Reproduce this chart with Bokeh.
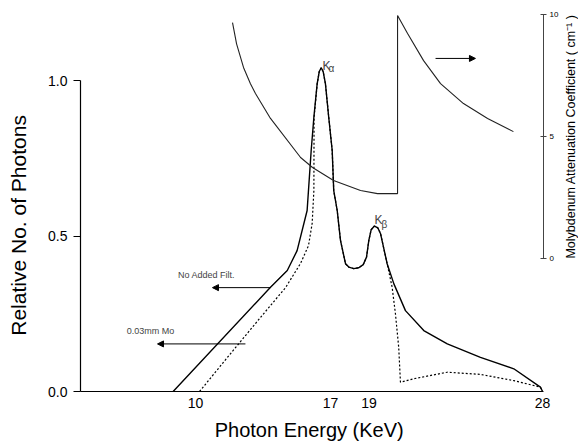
import math
from bokeh.plotting import figure
from bokeh.layouts import row
from bokeh.models import (Range1d, LinearAxis, FixedTicker, NumeralTickFormatter,
                          Label, Arrow, NormalHead)
from bokeh.embed import file_html
from bokeh.resources import INLINE

# ---- data ----
energy_open = [8.84, 13.89, 14.76, 15.27, 15.79, 16.00, 16.14, 16.31, 16.42, 16.52, 16.62,
               16.74, 16.91, 17.09, 17.17, 17.35, 17.52, 17.78, 17.95, 18.21, 18.47, 18.70,
               18.87, 18.99, 19.11, 19.28, 19.46, 19.60, 19.94, 20.29, 20.89, 21.84, 23.06,
               24.78, 26.51, 27.89, 28.00]
photons_open = [0.0, 0.335, 0.389, 0.453, 0.582, 0.775, 0.882, 0.989, 1.029, 1.041, 1.029,
                0.989, 0.882, 0.775, 0.646, 0.582, 0.486, 0.411, 0.400, 0.395, 0.398, 0.408,
                0.432, 0.486, 0.520, 0.532, 0.526, 0.507, 0.411, 0.346, 0.260, 0.196, 0.153,
                0.110, 0.073, 0.014, 0.0]

energy_mo = [10.21, 11.82, 13.37, 14.67, 15.45, 15.86, 16.05, 16.14, 16.15, 16.31, 16.42,
             16.52, 16.62, 16.74, 16.91, 17.09, 17.17, 17.35, 17.52, 17.78, 17.95, 18.21,
             18.47, 18.70, 18.87, 18.99, 19.11, 19.28, 19.46, 19.60, 19.94, 20.20, 20.37,
             20.54, 20.63, 21.32, 23.06, 24.78, 26.51, 27.89, 28.00]
photons_mo = [0.0, 0.122, 0.238, 0.334, 0.412, 0.469, 0.540, 0.646, 0.881, 0.989, 1.029,
              1.041, 1.029, 0.989, 0.882, 0.775, 0.646, 0.582, 0.486, 0.411, 0.400, 0.395,
              0.398, 0.408, 0.432, 0.486, 0.520, 0.532, 0.526, 0.507, 0.411, 0.335, 0.250,
              0.142, 0.030, 0.041, 0.062, 0.055, 0.035, 0.014, 0.0]

energy_mu = [11.92, 12.13, 12.49, 12.85, 13.11, 13.89, 15.45, 16.07, 17.16, 18.56, 19.44,
             20.48, 20.48, 21.00, 21.83, 22.71, 23.90, 25.15, 26.49]
mu_coeff = [9.67, 8.80, 7.83, 7.16, 6.76, 5.74, 4.14, 3.73, 3.20, 2.79, 2.66,
            2.66, 9.96, 9.22, 8.11, 7.17, 6.35, 5.74, 5.20]

x_ticks = [10, 17, 19, 28]
y_ticks = [0.0, 0.5, 1.0]
mu_ticks = [0, 5, 10]

y_title = "Relative No. of Photons"
x_title = "Photon Energy  (KeV)"
mu_title = "Molybdenum Attenuation Coefficient ( cm\u207b\u00b9 )"

FONT = "Liberation Sans"
TOP, BOTTOM = 10, 55

y_rng = Range1d(0, 1.2251)
mu_rng = Range1d(-5.451, 10.164)

# ---------- main plot ----------
p = figure(width=527, height=446, output_backend="svg", toolbar_location=None,
           x_range=Range1d(4.035, 28.05), y_range=y_rng,
           min_border_left=44, min_border_right=20, min_border_top=TOP,
           min_border_bottom=BOTTOM)
p.extra_y_ranges = {"mu": mu_rng}
p.grid.visible = False
p.outline_line_color = None
p.background_fill_color = "white"
p.border_fill_color = "white"

p.line(energy_open, photons_open, line_color="black", line_width=1.4)
p.line(energy_mo, photons_mo, line_color="black", line_width=1.2, line_dash="2 2")
p.line(energy_mu, mu_coeff, y_range_name="mu", line_color="#222222", line_width=1.1)

xa = p.xaxis[0]
xa.ticker = FixedTicker(ticks=x_ticks)
xa.major_tick_out = 0
xa.major_tick_in = 0
xa.minor_tick_out = 0
xa.minor_tick_in = 0
xa.axis_line_color = "black"
xa.axis_line_width = 1.2
xa.major_label_text_font = FONT
xa.major_label_text_font_size = "14px"
xa.major_label_text_color = "black"
xa.major_label_standoff = 6
xa.axis_label = x_title
xa.axis_label_text_font = FONT
xa.axis_label_text_font_size = "20px"
xa.axis_label_text_font_style = "normal"
xa.axis_label_text_color = "black"
xa.axis_label_standoff = 8

ya = p.yaxis[0]
ya.ticker = FixedTicker(ticks=y_ticks)
ya.formatter = NumeralTickFormatter(format="0.0")
ya.bounds = (0, 1)
ya.major_tick_out = 7
ya.major_tick_in = 0
ya.minor_tick_out = 0
ya.minor_tick_in = 0
ya.axis_line_color = "black"
ya.axis_line_width = 1.2
ya.major_tick_line_width = 1.2
ya.major_label_text_font = FONT
ya.major_label_text_font_size = "14px"
ya.major_label_text_color = "black"
ya.major_label_standoff = 6

ra = LinearAxis(y_range_name="mu", ticker=FixedTicker(ticks=mu_ticks), bounds=(0, 10))
ra.major_tick_out = 3
ra.major_tick_in = 3
ra.minor_tick_out = 0
ra.minor_tick_in = 0
ra.axis_line_color = "#444444"
ra.major_tick_line_color = "#444444"
ra.major_label_text_font = FONT
ra.major_label_text_font_size = "8px"
ra.major_label_text_color = "black"
ra.major_label_standoff = 3
p.add_layout(ra, "right")

# peak labels
p.add_layout(Label(x=16.59, y=1.048, text="K", text_font=FONT, text_font_size="12px",
                   text_align="left", text_baseline="alphabetic"))
p.add_layout(Label(x=16.90, y=1.040, text="\u03b1", text_font=FONT, text_font_size="10px",
                   text_align="left", text_baseline="alphabetic"))
p.add_layout(Label(x=19.28, y=0.553, text="K", text_font=FONT, text_font_size="12px",
                   text_align="left", text_baseline="alphabetic"))
p.add_layout(Label(x=19.65, y=0.537, text="\u03b2", text_font=FONT, text_font_size="10px",
                   text_align="left", text_baseline="alphabetic"))

# curve annotations
p.add_layout(Label(x=10.57, y=0.373, text="No Added Filt.", text_font=FONT,
                   text_font_size="9px", text_align="center", text_baseline="middle"))
p.add_layout(Label(x=7.67, y=0.196, text="0.03mm Mo", text_font=FONT,
                   text_font_size="9px", text_align="center", text_baseline="middle"))

for xs, xe, yy in [(13.89, 10.88, 0.334), (12.59, 8.03, 0.153), (22.45, 24.52, 1.071)]:
    p.add_layout(Arrow(end=NormalHead(size=6, fill_color="black", line_color="black"),
                       x_start=xs, y_start=yy, x_end=xe, y_end=yy,
                       line_color="black", line_width=1))


# ---------- narrow side strips holding the vertical axis titles ----------
def title_strip(width, rng, y_pos, text, size):
    s = figure(width=width, height=446, output_backend="svg", toolbar_location=None,
               x_range=Range1d(0, 1), y_range=rng, x_axis_location=None,
               y_axis_location=None, min_border_left=0, min_border_right=0,
               min_border_top=TOP, min_border_bottom=BOTTOM)
    s.grid.visible = False
    s.outline_line_color = None
    s.background_fill_color = "white"
    s.border_fill_color = "white"
    s.add_layout(Label(x=0.5, y=y_pos, text=text, angle=math.pi / 2, text_align="center",
                       text_baseline="middle", text_font=FONT, text_font_size=size,
                       text_color="black"))
    return s


left_strip = title_strip(36, y_rng, 0.534, y_title, "21px")
right_strip = title_strip(15, mu_rng, 5.0, mu_title, "12.5px")

layout = row(left_strip, p, right_strip)
open("out.html", "w").write(file_html(layout, INLINE))
